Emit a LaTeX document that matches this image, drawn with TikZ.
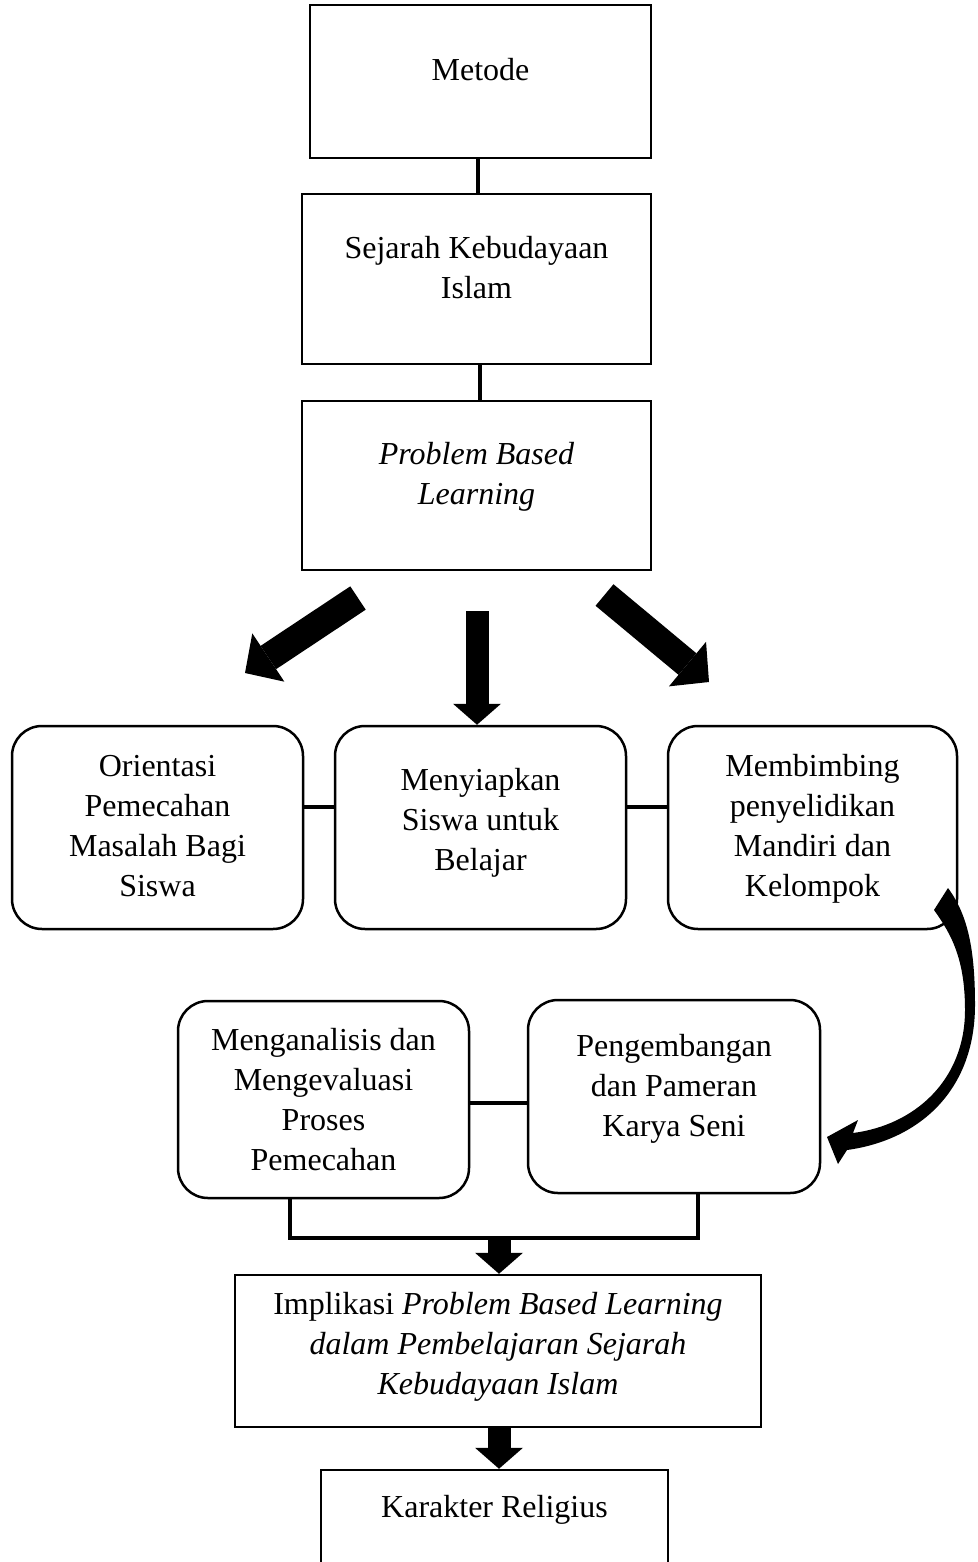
\documentclass[tikz,border=0pt]{standalone}
\usepackage{fontspec}
\setmainfont{Liberation Serif}
\usetikzlibrary{arrows.meta}

\tikzset{
  plainbox/.style={draw, line width=2.5pt, inner sep=0pt, align=center, text depth=24pt},
  stepbox/.style={draw, line width=2.5pt, rounded corners=30pt, inner sep=0pt, align=center,
    text depth=4pt, minimum width=291pt, minimum height=203pt},
  link/.style={line width=4pt},
  fatarrow/.style={line width=23pt, -{Triangle[length=21pt, width=48pt, line width=0pt]}},
  bigarrow/.style={line width=28pt, -{Triangle[length=28pt, width=58pt, line width=0pt]}}
}

\begin{document}
\begin{tikzpicture}[x=1pt, y=-1pt, font=\fontsize{32}{40}\selectfont]
      \useasboundingbox (0,0) rectangle (977,1562);
      % kotak atas
      \node[plainbox, minimum width=341pt, minimum height=153pt] (metode) at (480.5,81.5) {Metode};
      \node[plainbox, minimum width=349pt, minimum height=170pt] (sejarah) at (476.5,279) {Sejarah Kebudayaan\\Islam};
      \node[plainbox, minimum width=349pt, minimum height=169pt] (pbl) at (476.5,485.5) {\textit{Problem Based}\\\textit{Learning}};
      \draw[link] (metode.south -| 478,0) -- (sejarah.north -| 478,0);
      \draw[link] (sejarah.south -| 480,0) -- (pbl.north -| 480,0);
      % langkah
      \node[stepbox] (orientasi) at (157.5,827.5) {Orientasi\\Pemecahan\\Masalah Bagi\\Siswa};
      \node[stepbox, text depth=17pt] (menyiapkan) at (480.5,827.5) {Menyiapkan\\Siswa untuk\\Belajar};
      \node[stepbox, minimum width=289pt] (membimbing) at (812.5,827.5) {Membimbing\\penyelidikan\\Mandiri dan\\Kelompok};
      \node[stepbox, minimum height=197pt, text depth=0pt] (menganalisis) at (323.5,1099.5) {Menganalisis dan\\Mengevaluasi\\Proses\\Pemecahan};
      \node[stepbox, minimum width=292pt, minimum height=193pt, text depth=22pt] (pengembangan) at (674,1096.5) {Pengembangan\\dan Pameran\\Karya Seni};
      \begin{scope}[link]
        \draw (orientasi.east |- 0,807) -- (menyiapkan.west |- 0,807);
        \draw (menyiapkan.east |- 0,807) -- (membimbing.west |- 0,807);
        \draw (menganalisis.east |- 0,1103) -- (pengembangan.west |- 0,1103);
        \draw (menganalisis.south -| 290,0) -- (290,1238) -- (698,1238) -- (pengembangan.south -| 698,0);
      \end{scope}
      % kotak bawah
      \node[plainbox, minimum width=526pt, minimum height=152pt, text depth=16pt] (implikasi) at (498,1351)
        {Implikasi \textit{Problem Based Learning}\\\textit{dalam Pembelajaran Sejarah}\\\textit{Kebudayaan Islam}};
      \node[plainbox, minimum width=347pt, minimum height=96pt] (karakter) at (494.5,1518) {Karakter Religius};
      % panah tebal
      \coordinate (kiri) at (358,598);
      \coordinate (kiriujung) at (245,673);
      \coordinate (tengah) at (477,611);
      \coordinate (kanan) at (604.5,595);
      \coordinate (kananujung) at (709,682);
      \coordinate (gabung) at (499,1238);
      \draw[bigarrow] (kiri) -- (kiriujung);
      \draw[bigarrow] (kanan) -- (kananujung);
      \draw[fatarrow] (tengah) -- (menyiapkan.north -| tengah);
      \draw[fatarrow] (gabung) -- (implikasi.north -| gabung);
      \draw[fatarrow] (implikasi.south -| gabung) -- (karakter.north -| gabung);
      % panah lengkung
      \fill (934,910) .. controls (952,935) and (965,960) .. (965,1010)
        .. controls (965,1080) and (915,1125) .. (853,1133) -- (858,1120) -- (827,1137) -- (838,1164) -- (847,1150)
        .. controls (920,1140) and (975,1090) .. (975,1005) .. controls (975,950) and (968,915) .. (948,888) -- cycle;
    \end{tikzpicture}
\end{document}
